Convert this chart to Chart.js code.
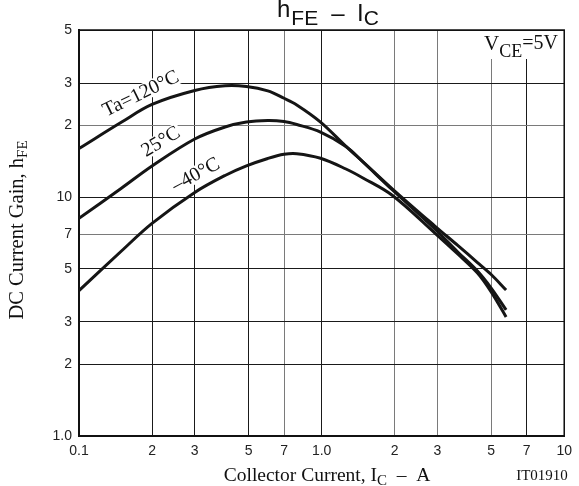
<!DOCTYPE html>
<html>
<head>
<meta charset="utf-8">
<script src="https://cdn.jsdelivr.net/npm/chart.js@4.4.1/dist/chart.umd.min.js"></script>
<style>
html,body{margin:0;padding:0;background:#fff;}
#wrap{width:579px;height:486px;}
</style>
</head>
<body>
<div id="wrap"><canvas id="c" width="579" height="486"></canvas></div>
<script>
// ---- data ----
const xVals   = [0.1, 0.15, 0.2, 0.3, 0.4, 0.49, 0.6, 0.7, 0.79, 0.99, 1.26, 1.48, 1.96, 2.93, 3.64, 4.39, 5.0, 5.76];
const hfe120  = [15.96, 20.6, 24.4, 27.9, 29.2, 29.0, 27.8, 25.9, 24.3, 20.6, 16.3, 14.05, 10.8, 7.56, 6.27, 5.32, 4.74, 4.08];
const hfe25   = [8.15, 10.91, 13.49, 17.49, 19.64, 20.6, 20.9, 20.7, 20.12, 18.71, 16.27, 14.02, 10.7, 7.35, 5.89, 4.90, 4.16, 3.37];
const hfeM40  = [4.06, 5.96, 7.76, 10.45, 12.31, 13.5, 14.5, 15.1, 15.19, 14.53, 13.1, 12.02, 10.15, 7.07, 5.78, 4.81, 4.01, 3.15];

const xTicks      = [0.1, 0.2, 0.3, 0.5, 0.7, 1, 2, 3, 5, 7, 10];
const xTickLabels = ['0.1', '2', '3', '5', '7', '1.0', '2', '3', '5', '7', '10'];
const yTicks      = [1, 2, 3, 5, 7, 10, 20, 30, 50];
const yTickLabels = ['1.0', '2', '3', '5', '7', '10', '2', '3', '5'];

const xGray = [0.7, 2, 3, 5];
const yGray = [7, 20];

const SERIF = '"Liberation Serif","Times New Roman",serif';
const SANS = '"Liberation Sans",Arial,sans-serif';

function pts(ys){ return xVals.map((x,i)=>({x:x, y:ys[i]})); }

function drawParts(ctx, parts, x, y, align){
  let total = 0;
  parts.forEach(p=>{ ctx.font = p.fs + 'px ' + (p.font||SERIF); p.w = ctx.measureText(p.t).width; total += p.w; });
  let cx = align === 'center' ? x - total/2 : (align === 'right' ? x - total : x);
  ctx.textAlign = 'left';
  ctx.textBaseline = 'alphabetic';
  parts.forEach(p=>{ ctx.font = p.fs + 'px ' + (p.font||SERIF); ctx.fillText(p.t, cx, y + (p.dy||0)); cx += p.w; });
}

const curveLabels = [
  {t:'Ta=120°C', x:141, y:94, a:-26},
  {t:'25°C', x:161, y:142, a:-31},
  {t:'\u201340°C', x:196, y:175, a:-28}
];

const annot = {
  id:'annot',
  beforeDatasetsDraw(chart){
    const ctx = chart.ctx, ca = chart.chartArea;
    ctx.save();
    ctx.fillStyle = '#fff';
    ctx.fillRect(478, ca.top + 1, ca.right - 479, 28);
    ctx.font = '20px ' + SERIF;
    curveLabels.forEach(l=>{
      ctx.save();
      ctx.translate(l.x, l.y);
      ctx.rotate(l.a*Math.PI/180);
      const w = ctx.measureText(l.t).width;
      ctx.fillStyle = '#fff';
      ctx.fillRect(-w/2-2, -9, w+4, 17);
      ctx.fillStyle = '#111';
      ctx.textAlign = 'center';
      ctx.textBaseline = 'middle';
      ctx.fillText(l.t, 0, 0);
      ctx.restore();
    });
    ctx.restore();
  },
  afterDraw(chart){
    const ctx = chart.ctx, ca = chart.chartArea;
    ctx.save();
    ctx.strokeStyle = '#111';
    ctx.lineWidth = 1.5;
    ctx.beginPath();
    ctx.moveTo(ca.left, ca.top); ctx.lineTo(ca.right, ca.top); ctx.lineTo(ca.right, ca.bottom);
    ctx.stroke();
    ctx.fillStyle = '#111';
    // title  h_FE - I_C
    ctx.textAlign = 'left';
    ctx.textBaseline = 'alphabetic';
    ctx.font = '24px ' + SANS;
    ctx.fillText('h', 277, 17);
    const hw = ctx.measureText('h').width;
    ctx.font = '21px ' + SANS;
    ctx.fillText('FE', 277 + hw + 1, 25);
    ctx.font = '24px ' + SANS;
    ctx.textAlign = 'center';
    ctx.fillText('\u2013', 338, 21);
    ctx.textAlign = 'left';
    ctx.fillText('I', 357, 21);
    const iw = ctx.measureText('I').width;
    ctx.font = '21px ' + SANS;
    ctx.fillText('C', 357 + iw, 25);
    // V_CE label
    drawParts(ctx, [
      {t:'V', fs:21},
      {t:'CE', fs:18, dy:7},
      {t:'=5V', fs:20, dy:-1}
    ], 484, 50, 'left');
    // x axis title
    drawParts(ctx, [
      {t:'Collector Current, I', fs:19.5},
      {t:'C', fs:15, dy:4},
      {t:'  \u2013  A', fs:19.5}
    ], 327, 481, 'center');
    drawParts(ctx, [{t:'IT01910', fs:15}], 542, 480, 'center');
    // y axis title
    ctx.translate(23, 230);
    ctx.rotate(-Math.PI/2);
    drawParts(ctx, [
      {t:'DC Current Gain, h', fs:20.5},
      {t:'FE', fs:15, dy:4}
    ], 0, 0, 'center');
    ctx.restore();
  }
};

const ds = (label, ys) => ({
  label: label,
  data: pts(ys),
  borderColor: '#151515',
  borderWidth: 3,
  pointRadius: 0,
  fill: false,
  tension: 0.35
});

new Chart(document.getElementById('c'), {
  type: 'line',
  data: {
    datasets: [ds('Ta=120°C', hfe120), ds('25°C', hfe25), ds('-40°C', hfeM40)]
  },
  options: {
    responsive: false,
    animation: false,
    devicePixelRatio: 1,
    layout: { padding: { top: 30, right: 8, left: 0, bottom: 0 } },
    plugins: { legend: { display: false }, tooltip: { enabled: false }, title: { display: false } },
    scales: {
      x: {
        type: 'logarithmic',
        min: 0.1, max: 10,
        afterBuildTicks: s => { s.ticks = xTicks.map(v => ({ value: v })); },
        afterFit: s => { s.height = 50; },
        ticks: {
          autoSkip: false, maxRotation: 0, padding: 7,
          color: '#222', font: { family: SANS, size: 14 },
          callback: (v, i) => xTickLabels[i]
        },
        grid: {
          drawTicks: false,
          lineWidth: 1,
          color: c => (c.tick && xGray.includes(c.tick.value)) ? '#7a7a7a' : '#1a1a1a'
        },
        border: { display: true, color: '#111', width: 2 }
      },
      y: {
        type: 'logarithmic',
        min: 1, max: 50,
        afterBuildTicks: s => { s.ticks = yTicks.map(v => ({ value: v })); },
        afterFit: s => { s.width = 79; },
        ticks: {
          autoSkip: false, padding: 7,
          color: '#222', font: { family: SANS, size: 14 },
          callback: (v, i) => yTickLabels[i]
        },
        grid: {
          drawTicks: false,
          lineWidth: 1,
          color: c => (c.tick && yGray.includes(c.tick.value)) ? '#7a7a7a' : '#1a1a1a'
        },
        border: { display: true, color: '#111', width: 2 }
      }
    }
  },
  plugins: [annot]
});
</script>
</body>
</html>
